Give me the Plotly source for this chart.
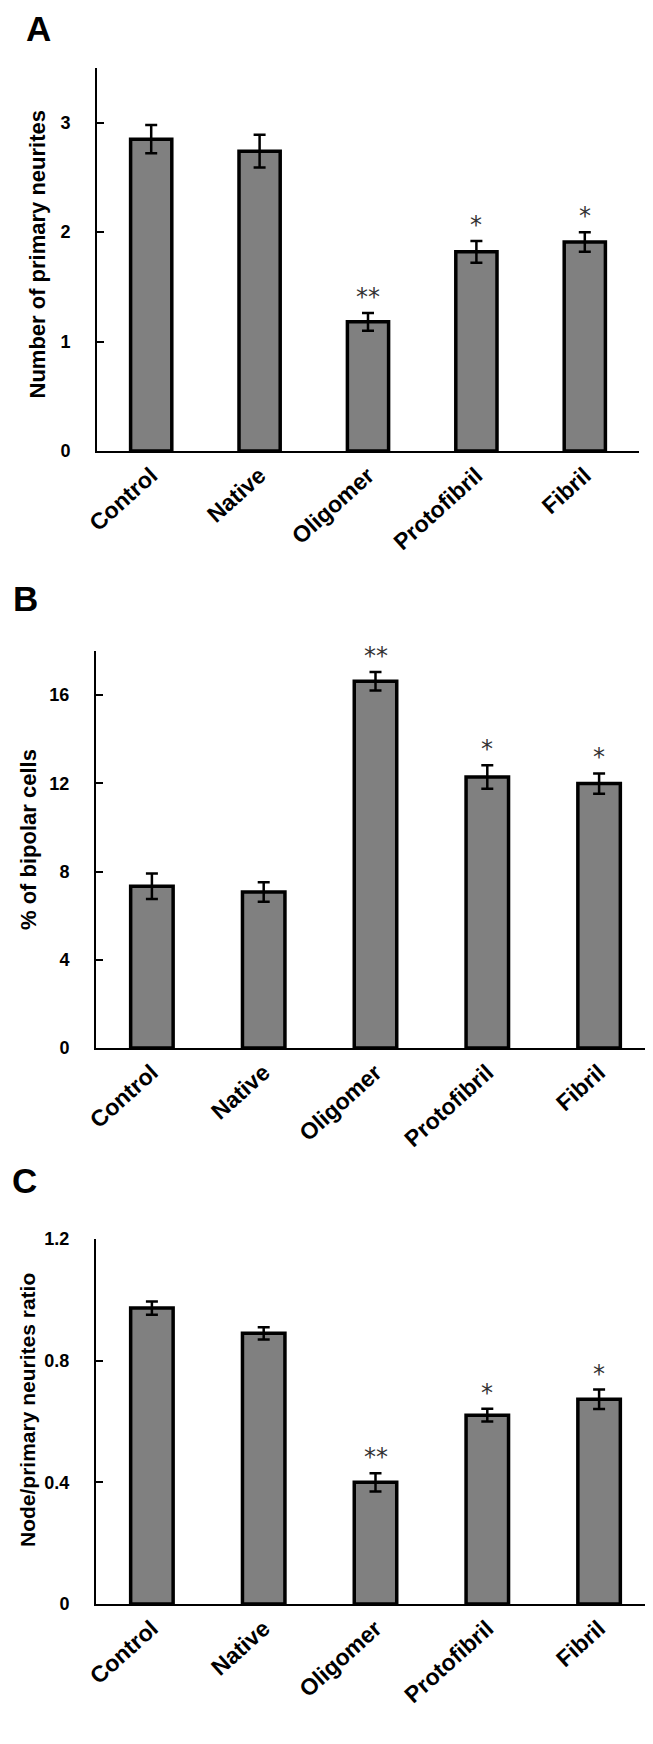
import plotly.graph_objects as go

# ---------------- data ----------------
categories = ["Control", "Native", "Oligomer", "Protofibril", "Fibril"]

neurites_mean = [2.85, 2.74, 1.18, 1.82, 1.91]
neurites_err = [0.13, 0.15, 0.08, 0.10, 0.09]
neurites_sig = ["", "", "**", "*", "*"]

bipolar_mean = [7.33, 7.07, 16.63, 12.29, 11.99]
bipolar_err = [0.58, 0.44, 0.42, 0.53, 0.46]
bipolar_sig = ["", "", "**", "*", "*"]

ratio_mean = [0.973, 0.890, 0.400, 0.621, 0.673]
ratio_err = [0.022, 0.020, 0.030, 0.021, 0.032]
ratio_sig = ["", "", "**", "*", "*"]

panel_letters = ["A", "B", "C"]
y_titles = ["Number of primary neurites", "% of bipolar cells", "Node/primary neurites ratio"]

a_tickvals = [0, 1, 2, 3]
a_ticktext = ["0", "1", "2", "3"]
b_tickvals = [0, 4, 8, 12, 16]
b_ticktext = ["0", "4", "8", "12", "16"]
c_tickvals = [0, 0.4, 0.8, 1.2]
c_ticktext = ["0", "0.4", "0.8", "1.2"]

# ---------------- layout helpers ----------------
W, H = 653, 1744


def fx(px):
    return px / W


def fy(py):
    return 1 - py / H


panels = [
    dict(means=neurites_mean, errs=neurites_err, sig=neurites_sig,
         xd=(89, 631), yd=(60, 443), yr=[0, 3.5],
         tv=a_tickvals, tt=a_ticktext,
         letter_pos=(30.5, 21), title_pos=(29.5, 246), title_size=22),
    dict(means=bipolar_mean, errs=bipolar_err, sig=bipolar_sig,
         xd=(88, 647), yd=(643, 1040), yr=[0, 18],
         tv=b_tickvals, tt=b_ticktext,
         letter_pos=(17, 590), title_pos=(20, 832), title_size=22),
    dict(means=ratio_mean, errs=ratio_err, sig=ratio_sig,
         xd=(88, 647), yd=(1231, 1596), yr=[0, 1.2001],
         tv=c_tickvals, tt=c_ticktext,
         letter_pos=(16.5, 1172), title_pos=(19, 1402), title_size=21),
]

fig = go.Figure()
annotations = []
layout_axes = {}

bold = dict(family="Liberation Sans, Arial, sans-serif", color="black", weight="bold")

for i, p in enumerate(panels):
    n = "" if i == 0 else str(i + 1)
    xa, ya = "x" + n, "y" + n
    fig.add_trace(go.Bar(
        x=categories, y=p["means"], width=0.38,
        marker=dict(color="#808080", line=dict(color="black", width=3.5)),
        error_y=dict(type="data", array=p["errs"], visible=True,
                     color="black", thickness=2.5, width=6),
        xaxis=xa, yaxis=ya, showlegend=False,
    ))
    layout_axes["xaxis" + n] = dict(
        domain=[fx(p["xd"][0]), fx(p["xd"][1])], anchor=ya,
        type="category", range=[-0.5, 4.5], automargin=False,
        showline=True, linecolor="black", linewidth=2,
        ticks="", showgrid=False, zeroline=False,
        tickangle=-42, tickfont=dict(size=23, **bold),
    )
    layout_axes["yaxis" + n] = dict(
        domain=[fy(p["yd"][1]), fy(p["yd"][0])], anchor=xa,
        range=p["yr"], tickvals=p["tv"], ticktext=p["tt"], automargin=False,
        showline=True, linecolor="black", linewidth=2,
        ticks="inside", ticklen=7, tickwidth=2, tickcolor="black",
        showgrid=False, zeroline=False,
        tickfont=dict(size=18, **bold), ticklabelstandoff=21,
    )
    # significance marks
    for c, m, e, s in zip(categories, p["means"], p["errs"], p["sig"]):
        if s:
            annotations.append(dict(
                x=c, y=m + e, xref=xa, yref=ya, text=s, showarrow=False,
                yanchor="bottom", xanchor="center", yshift=0,
                font=dict(family="DejaVu Sans", size=24, color="#333333"),
            ))
    # panel letter
    lx, ly = p["letter_pos"]
    annotations.append(dict(
        x=fx(lx), y=fy(ly), xref="paper", yref="paper", text=panel_letters[i],
        showarrow=False, xanchor="center", yanchor="middle",
        font=dict(size=35, **bold),
    ))
    # y title
    tx, ty = p["title_pos"]
    annotations.append(dict(
        x=fx(tx), y=fy(ty), xref="paper", yref="paper", text=y_titles[i],
        showarrow=False, xanchor="center", yanchor="middle", textangle=-90,
        font=dict(size=p["title_size"], **bold),
    ))

fig.update_layout(
    width=W, height=H,
    margin=dict(l=0, r=0, t=0, b=0, autoexpand=False),
    paper_bgcolor="white", plot_bgcolor="white",
    annotations=annotations,
    **layout_axes,
)

fig.write_html("out.html")
